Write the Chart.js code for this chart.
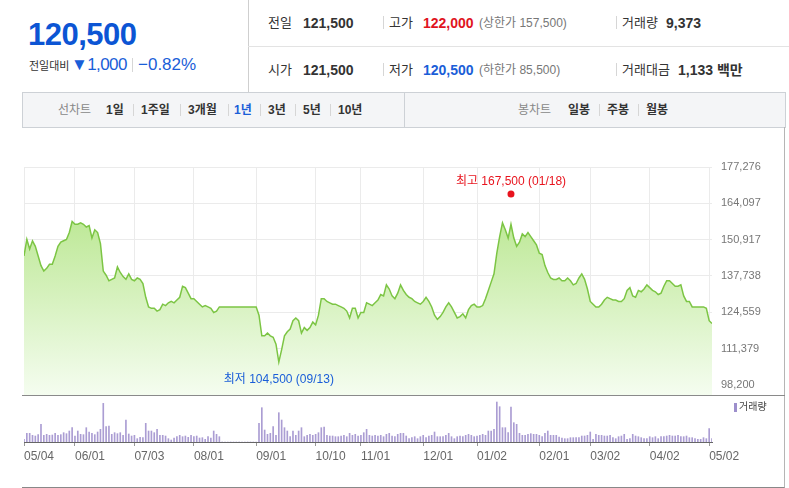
<!DOCTYPE html>
<html>
<head>
<meta charset="utf-8">
<script src="https://cdn.jsdelivr.net/npm/chart.js@4.4.1/dist/chart.umd.min.js"></script>
<style>
body{margin:0;width:789px;height:488px;overflow:hidden;background:#fff;position:relative;
  font-family:"Liberation Sans","Noto Sans CJK KR",sans-serif;color:#333}
.a{position:absolute;white-space:nowrap;line-height:1}
.b{font-weight:bold}
.sep{position:absolute;width:1px;background:#d6d6d6}
canvas{position:absolute;left:0}
</style>
</head>
<body>
<!-- header -->
<div class="a b" style="left:28px;top:19px;font-size:31px;color:#0c55d4;letter-spacing:-0.5px">120,500</div>
<div class="a" style="left:29px;top:61px;font-size:11px;color:#333">전일대비</div>
<div class="a" style="left:71px;top:56px;font-size:17px;color:#1a5ed8;letter-spacing:-0.6px">▼1,000</div>
<div class="sep" style="left:132px;top:58px;height:14px"></div>
<div class="a" style="left:138px;top:56px;font-size:17px;color:#1a5ed8">−0.82%</div>
<div class="sep" style="left:248px;top:0;height:92px;background:#cfcfcf"></div>
<div class="sep" style="left:248px;top:46px;width:541px;height:1px;background:#e3e3e3"></div>

<div class="a" style="left:268px;top:16px;font-size:13px">전일</div>
<div class="a b" style="left:303px;top:16px;font-size:14px">121,500</div>
<div class="sep" style="left:383px;top:16px;height:13px"></div>
<div class="a" style="left:389px;top:16px;font-size:13px">고가</div>
<div class="a b" style="left:423px;top:16px;font-size:14px;color:#e0141e">122,000</div>
<div class="a" style="left:479px;top:17px;font-size:12px;color:#777">(상한가 157,500)</div>
<div class="sep" style="left:616px;top:16px;height:13px"></div>
<div class="a" style="left:622px;top:16px;font-size:13px">거래량</div>
<div class="a b" style="left:666px;top:16px;font-size:14px">9,373</div>

<div class="a" style="left:268px;top:63px;font-size:13px">시가</div>
<div class="a b" style="left:303px;top:63px;font-size:14px">121,500</div>
<div class="sep" style="left:383px;top:63px;height:13px"></div>
<div class="a" style="left:389px;top:63px;font-size:13px">저가</div>
<div class="a b" style="left:423px;top:63px;font-size:14px;color:#1a5ed8">120,500</div>
<div class="a" style="left:479px;top:64px;font-size:12px;color:#777">(하한가 85,500)</div>
<div class="sep" style="left:616px;top:63px;height:13px"></div>
<div class="a" style="left:622px;top:63px;font-size:13px">거래대금</div>
<div class="a b" style="left:678px;top:63px;font-size:14px">1,133 백만</div>

<!-- toolbar -->
<div style="position:absolute;left:22px;top:92px;width:762px;height:34px;background:#f4f5f7;border:1px solid #cdd1d6"></div>
<div class="sep" style="left:404px;top:93px;height:34px;background:#cdd1d6"></div>
<div class="a" style="left:58px;top:104px;font-size:12px;color:#888">선차트</div>
<div class="a b" style="left:106px;top:104px;font-size:12px">1일</div>
<div class="sep" style="left:133px;top:104px;height:12px"></div>
<div class="a b" style="left:141px;top:104px;font-size:12px">1주일</div>
<div class="sep" style="left:180px;top:104px;height:12px"></div>
<div class="a b" style="left:188px;top:104px;font-size:12px">3개월</div>
<div class="sep" style="left:228px;top:104px;height:12px"></div>
<div class="a b" style="left:234px;top:104px;font-size:12px;color:#1a5ed8">1년</div>
<div class="sep" style="left:260px;top:104px;height:12px"></div>
<div class="a b" style="left:268px;top:104px;font-size:12px">3년</div>
<div class="sep" style="left:295px;top:104px;height:12px"></div>
<div class="a b" style="left:303px;top:104px;font-size:12px">5년</div>
<div class="sep" style="left:330px;top:104px;height:12px"></div>
<div class="a b" style="left:338px;top:104px;font-size:12px">10년</div>
<div class="a" style="left:518px;top:104px;font-size:12px;color:#888">봉차트</div>
<div class="a b" style="left:568px;top:104px;font-size:12px">일봉</div>
<div class="sep" style="left:599px;top:104px;height:12px"></div>
<div class="a b" style="left:607px;top:104px;font-size:12px">주봉</div>
<div class="sep" style="left:638px;top:104px;height:12px"></div>
<div class="a b" style="left:646px;top:104px;font-size:12px">월봉</div>

<!-- chart frame -->
<div style="position:absolute;left:22px;top:127px;width:762px;height:360px;border-right:1px solid #b5b5b5;border-bottom:1px solid #888"></div>

<canvas id="price" width="789" height="283" style="top:128px"></canvas>
<canvas id="volume" width="789" height="90" style="top:396px"></canvas>
<div class="sep" style="left:22px;top:395px;width:763px;height:1px;background:#8a8a8a"></div>
<div style="position:absolute;left:734px;top:403px;width:3px;height:9px;background:#9d8fcc"></div>
<div class="a" style="left:739px;top:402px;font-size:10px;color:#444">거래량</div>

<script>
// trading days 2017-05-04 .. 2018-05-03, closing prices
const prices = [
  145000,151000,147500,150500,148500,145000,141500,139500,140500,142000,
  142000,145000,148500,150000,150500,151000,153500,157500,156500,156500,
  157000,156500,155500,156000,151500,154500,153500,149500,139500,138000,
  136000,136500,137000,141000,139000,137500,136500,138500,136500,136000,
  137000,136500,135000,130000,126500,126000,126000,125000,125500,127500,
  127000,128000,128500,128000,129000,130000,134000,133500,131500,129500,
  129500,128500,127500,126500,127000,126500,126000,124500,125000,126500,
  126500,126500,126500,126500,126500,126500,126500,126500,126500,126500,
  126500,126500,126500,123500,116000,116000,117000,116000,115500,113000,
  106500,111000,116000,117500,118500,121500,122500,121500,117000,119000,
  118000,119000,121000,120000,123500,129500,129500,128500,128000,127500,
  127500,127000,126500,126000,125000,122500,126000,126000,122500,124500,
  124500,128000,127500,127000,128000,129000,131000,130500,134500,133000,
  130500,129500,131500,134500,132500,131000,130000,129500,128500,128000,
  127500,128500,130000,128500,126500,123500,122000,123000,124500,126500,
  128000,126500,124500,122500,123000,124000,122500,125500,127000,127500,
  126500,126500,127000,129500,132500,135500,138500,146000,152000,157000,
  154500,151500,156500,151500,148500,150000,153000,152000,153500,152000,
  150500,149000,146000,145500,141500,139000,137000,136500,136500,137000,
  136000,136000,137000,136000,134500,135000,137000,138500,136500,133000,
  128500,127500,126500,126500,127500,129000,130000,129500,129000,129000,
  128500,128500,129500,132500,133500,130500,130000,132500,132000,133000,
  134500,133500,132500,132000,131000,131500,134000,136000,136000,135000,
  134000,134000,134500,130500,128500,128500,126500,126500,126500,126500,
  126500,126000,121500,120500
];
const volumes = [
  7500,24400,24400,18800,16900,20700,49800,18800,21600,18800,
  19700,24400,18800,20700,26300,23500,31000,40400,16900,31000,
  21600,20700,40400,28200,24400,20700,28200,35700,109000,43200,
  45100,21600,26300,23500,26300,18800,62000,22600,16900,18800,
  9400,13200,12200,52600,31000,31000,26300,35700,18800,18800,
  16900,9400,5600,11300,15000,18800,15000,16900,13200,18800,
  15000,16900,11300,12200,7500,15000,11300,31000,21600,15000,
  0,0,0,0,0,0,0,0,0,0,
  0,0,0,52600,96800,33800,21600,24400,43200,18800,
  82700,62000,40400,31000,15000,31000,18800,31000,40400,15000,
  18800,21600,18800,21600,26300,40400,42300,18800,16900,16900,
  15000,15000,16900,18800,15000,24400,18800,21600,16900,18800,
  26300,35700,18800,16900,18800,16900,18800,15000,21600,24400,
  16900,15000,21600,24400,24400,16900,9400,12200,15000,9400,
  15000,18800,12200,16900,18800,28200,15000,15000,15000,18800,
  24400,15000,9400,15000,16900,15000,18800,21600,18800,15000,
  16900,18800,21600,18800,31000,31000,35700,112800,99600,40400,
  40400,26300,98700,54500,49800,24400,18800,18800,21600,23500,
  21600,21600,18800,15000,24400,31000,18800,18800,18800,14100,
  11300,9400,9400,12200,12200,12200,12200,16900,16900,18800,
  28200,7500,21600,18800,18800,16900,16900,18800,12200,9400,
  15000,16900,21600,7500,9400,21600,16900,15000,12200,9400,
  9400,15000,12200,15000,9400,15000,15000,16900,18800,16900,
  16900,18800,15000,15000,16900,12200,12200,9400,7500,7500,
  12200,9400,37600,9373
];
const tickIdx = [0, 18, 39, 60, 82, 103, 119, 141, 160, 182, 200, 221, 242];
const tickLabels = ['05/04','06/01','07/03','08/01','09/01','10/10','11/01','12/01','01/02','02/01','03/02','04/02','05/02'];
const priceTicks = [98200, 111379, 124559, 137738, 150917, 164097, 177276];
const markIdx = [172, 90];
const markVal = [167500, 104500];
const markText = ['최고 167,500 (01/18)', '최저 104,500 (09/13)'];
const markColor = ['#e8141e', '#1a5ed8'];

const FONT = '"Liberation Sans","Noto Sans CJK KR",sans-serif';
const lastIdx = prices.length - 1;

const markLabels = {
  id: 'markLabels',
  afterDatasetsDraw(chart) {
    const ctx = chart.ctx;
    ctx.save();
    ctx.font = '12px ' + FONT;
    ctx.textAlign = 'center';
    ctx.textBaseline = 'middle';
    markText.forEach((t, k) => {
      const pt = chart.getDatasetMeta(k + 1).data[0];
      ctx.fillStyle = markColor[k];
      ctx.fillText(t, pt.x, pt.y + (k === 0 ? -12 : 12));
    });
    ctx.restore();
  }
};

new Chart(document.getElementById('price'), {
  type: 'line',
  data: {
    datasets: [
      {
        data: prices.map((v, i) => ({x: i, y: v})),
        borderColor: '#7cc544',
        borderWidth: 1.5,
        pointRadius: 0,
        tension: 0,
        fill: 'start',
        backgroundColor: c => {
          const area = c.chart.chartArea;
          if (!area) return 'rgba(0,0,0,0)';
          const g = c.chart.ctx.createLinearGradient(0, area.top, 0, area.bottom);
          g.addColorStop(0, '#ade27c');
          g.addColorStop(1, '#f5fdf0');
          return g;
        }
      },
      ...markIdx.map((x, k) => ({
        type: 'scatter',
        data: [{x: x, y: markVal[k]}],
        pointRadius: 3.5,
        pointBackgroundColor: markColor[k],
        pointBorderWidth: 0
      }))
    ]
  },
  options: {
    responsive: false,
    animation: false,
    layout: {padding: {left: 24, top: 39, right: 0, bottom: 0}},
    plugins: {legend: {display: false}, tooltip: {enabled: false}},
    scales: {
      x: {
        type: 'linear', min: 0, max: lastIdx,
        afterBuildTicks: s => { s.ticks = tickIdx.map(v => ({value: v})); },
        afterFit: s => { s.height = 0; },
        ticks: {display: false},
        grid: {color: '#ebebeb', drawTicks: false},
        border: {display: false}
      },
      y: {
        position: 'right', min: 94400, max: 177276,
        afterBuildTicks: s => { s.ticks = priceTicks.map(v => ({value: v})); },
        afterFit: s => { s.width = 77; },
        ticks: {padding: 9, color: '#777', font: {size: 11, family: FONT},
          callback: v => v.toLocaleString('en-US')},
        grid: {color: '#ebebeb', drawTicks: false},
        border: {display: false}
      }
    }
  },
  plugins: [markLabels]
});

new Chart(document.getElementById('volume'), {
  type: 'bar',
  data: {
    datasets: [{
      data: volumes.map((v, i) => ({x: i, y: v})),
      backgroundColor: '#ab9dd3',
      barThickness: 1,
      borderWidth: 0
    }]
  },
  options: {
    responsive: false,
    animation: false,
    layout: {padding: {left: 24, top: 4, right: 77, bottom: 0}},
    plugins: {legend: {display: false}, tooltip: {enabled: false}},
    scales: {
      x: {
        type: 'linear', min: 0, max: lastIdx, offset: false,
        afterBuildTicks: s => { s.ticks = tickIdx.map(v => ({value: v})); },
        afterFit: s => { s.height = 44; },
        ticks: {align: 'start', padding: 3, color: '#666', autoSkip: false, maxRotation: 0,
          font: {size: 12, family: FONT}, callback: (v, i) => tickLabels[i]},
        grid: {drawOnChartArea: false, offset: false, tickLength: 4, color: '#999'},
        border: {color: '#666'}
      },
      y: {display: false, min: 0, max: 118500}
    }
  }
});
</script>
</body>
</html>
